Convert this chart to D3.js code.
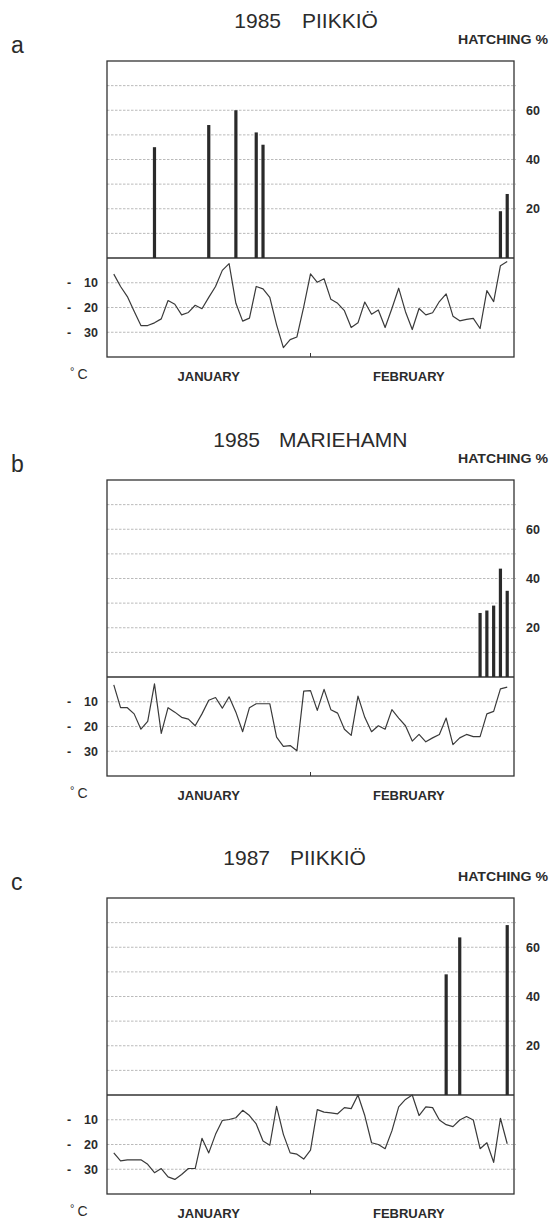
<!DOCTYPE html>
<html>
<head>
<meta charset="utf-8">
<script src="https://cdnjs.cloudflare.com/ajax/libs/d3/7.8.5/d3.min.js"></script>
<style>
body { margin: 0; background: #fff; }
text { font-family: "Liberation Sans", Arial, sans-serif; fill: #2b2b2b; }
</style>
</head>
<body>
<svg id="chart" width="551" height="1220"></svg>
<script>

///////  Data ///////

var panelLetters = ["a", "b", "c"];
var panelYears = ["1985", "1985", "1987"];
var panelPlaces = ["PIIKKIÖ", "MARIEHAMN", "PIIKKIÖ"];
var months = ["JANUARY", "FEBRUARY"];

// daily temperature, 1 Jan .. 28 Feb (deg C)
var tempA = [-6.5,-11.5,-15.6,-21.5,-27.3,-27.3,-26.2,-24.6,-17.2,-18.7,
             -23,-22,-19.1,-20.5,-15.9,-11.5,-5,-2.3,-18.3,-25.5,
             -24.3,-11.5,-12.5,-15.9,-27,-36.2,-33,-31.9,-19.7,-6.4,
             -9.8,-8.4,-16.7,-18.3,-21.3,-28.1,-26.2,-17.8,-22.7,-21,
             -28.1,-20.4,-12.2,-21.7,-28.9,-20.4,-23,-22.1,-17.6,-14.5,
             -23.5,-25.4,-24.8,-24.4,-28.5,-13.2,-17.6,-3.1,-1.4];
var tempB = [-3.2,-12.4,-12.4,-14.9,-21.1,-17.9,-2.8,-22.8,-12.4,-14.2,
             -16.3,-17,-19.7,-14.9,-9.4,-8.3,-12.6,-8,-14.2,-22.1,
             -12.4,-10.8,-10.8,-10.8,-24.3,-28,-27.7,-29.8,-5.7,-5.5,
             -13.5,-5,-13.2,-14.6,-21.1,-23.6,-7.7,-16.3,-22.1,-19.7,
             -21.1,-13.2,-16.6,-19.7,-25.9,-23.2,-26.2,-24.6,-23.2,-16.6,
             -27.3,-24.6,-23.2,-24.1,-24.1,-14.9,-13.9,-4.8,-4.1];
var tempC = [-23.4,-26.6,-26.2,-26.2,-26.2,-28,-31.4,-29.7,-33.1,-34.1,
             -32.1,-29.7,-29.7,-17.5,-23.4,-15.9,-10.3,-9.9,-9.2,-6.2,
             -8.3,-11.7,-18.6,-20.3,-4.6,-15.9,-23.4,-23.9,-25.9,-22.3,
             -5.9,-6.9,-7.2,-7.6,-5.1,-5.5,0,-8.3,-19.3,-20,
             -21.7,-14.5,-4.8,-1.8,0,-8.3,-4.8,-5.1,-10.1,-12,
             -12.8,-10.1,-8.7,-10.1,-21.7,-19.3,-27.2,-9.4,-19.7];

// hatching % (day number, value)
var hatchDaysA = [7, 15, 19, 22, 23, 58, 59];
var hatchA = [45, 54, 60, 51, 46, 19, 26];
var hatchDaysB = [55, 56, 57, 58, 59];
var hatchB = [26, 27, 29, 44, 35];
var hatchDaysC = [50, 52, 59];
var hatchC = [49, 64, 69];

var hatchTicks = [20, 40, 60];
var tempTicks = [-10, -20, -30];

///////  Layout ///////

var panelTop = [61, 480, 898];
var yearEnd = [281, 260, 270];
var placeStart = [302, 279, 290];
var monthDay = [15, 44.5];

var svg = d3.select("#chart");

var x = d3.scaleLinear().domain([0, 60]).range([107, 514]);
var yHatch = d3.scaleLinear().domain([0, 80]).range([197, 0]);
var yTemp = d3.scaleLinear().domain([0, -40]).range([197, 296]);

var temps = [tempA, tempB, tempC];
var hatchDays = [hatchDaysA, hatchDaysB, hatchDaysC];
var hatches = [hatchA, hatchB, hatchC];

var line = d3.line()
    .x(function(d, j) { return x(j + 1); })
    .y(function(d) { return yTemp(d); });

function drawPanel(i) {
    var g = svg.append("g").attr("transform", "translate(0," + panelTop[i] + ")");

    // headings
    g.append("text").attr("x", 11).attr("y", -8)
        .attr("font-size", "23px").text(panelLetters[i]);
    g.append("text").attr("x", yearEnd[i]).attr("y", -33)
        .attr("text-anchor", "end").attr("font-size", "21px").text(panelYears[i]);
    g.append("text").attr("x", placeStart[i]).attr("y", -33)
        .attr("font-size", "21px").text(panelPlaces[i]);
    g.append("text").attr("x", 458).attr("y", -17)
        .attr("font-size", "12px").attr("font-weight", "bold")
        .attr("textLength", 90).attr("lengthAdjust", "spacingAndGlyphs")
        .text("HATCHING %");

    // grid
    g.selectAll(".gh").data(d3.range(10, 80, 10)).enter().append("line")
        .attr("x1", x(0)).attr("x2", x(60) + 2)
        .attr("y1", function(d) { return yHatch(d); })
        .attr("y2", function(d) { return yHatch(d); })
        .attr("stroke", "#a8a8a8").attr("stroke-width", 0.8).attr("stroke-dasharray", "2.5,1.5");
    g.selectAll(".gt").data(tempTicks).enter().append("line")
        .attr("x1", x(0)).attr("x2", x(60) + 2)
        .attr("y1", function(d) { return yTemp(d); })
        .attr("y2", function(d) { return yTemp(d); })
        .attr("stroke", "#a8a8a8").attr("stroke-width", 0.8).attr("stroke-dasharray", "2.5,1.5");

    // frame
    g.append("rect").attr("x", x(0)).attr("y", yHatch(80))
        .attr("width", x(60) - x(0)).attr("height", yTemp(-40) - yHatch(80))
        .attr("fill", "none").attr("stroke", "#333").attr("stroke-width", 1.3);
    g.append("line").attr("x1", x(0)).attr("x2", x(60))
        .attr("y1", yTemp(0)).attr("y2", yTemp(0))
        .attr("stroke", "#333").attr("stroke-width", 1.3);
    g.append("line").attr("x1", x(30)).attr("x2", x(30))
        .attr("y1", yTemp(-40)).attr("y2", yTemp(-40) - 4)
        .attr("stroke", "#333").attr("stroke-width", 1);

    // bars
    g.selectAll(".bar").data(hatches[i]).enter().append("rect")
        .attr("x", function(d, j) { return x(hatchDays[i][j]) - 1.6; })
        .attr("width", 3.2)
        .attr("y", function(d) { return yHatch(d); })
        .attr("height", function(d) { return yHatch(0) - yHatch(d); })
        .attr("fill", "#2a2a2a");

    // temperature
    g.append("path").datum(temps[i])
        .attr("d", line)
        .attr("fill", "none").attr("stroke", "#3a3a3a").attr("stroke-width", 1.2)
        .attr("stroke-linejoin", "round");

    // axes
    var ra = g.append("g").attr("transform", "translate(" + x(60) + ",0)")
        .call(d3.axisRight(yHatch).tickValues(hatchTicks).tickSize(0).tickPadding(12));
    ra.select(".domain").remove();
    ra.selectAll("text").attr("font-size", "12.5px").attr("font-weight", "bold")
        .attr("font-family", null).style("fill", "#2b2b2b");

    var la = g.append("g").attr("transform", "translate(" + x(0) + ",0)")
        .call(d3.axisLeft(yTemp).tickValues(tempTicks).tickSize(0).tickPadding(9)
            .tickFormat(function(d) { return Math.abs(d); }));
    la.select(".domain").remove();
    la.selectAll("text").attr("font-size", "12.5px").attr("font-weight", "bold")
        .attr("font-family", null).style("fill", "#2b2b2b");
    la.selectAll(".tick").append("text")
        .attr("x", -38).attr("dy", "0.32em").attr("text-anchor", "middle")
        .attr("font-size", "12.5px").attr("font-weight", "bold").style("fill", "#2b2b2b")
        .text("-");

    // month labels
    g.selectAll(".month").data(months).enter().append("text")
        .attr("x", function(d, j) { return x(monthDay[j]); })
        .attr("y", yTemp(-40) + 24)
        .attr("text-anchor", "middle").attr("font-size", "13px").attr("font-weight", "bold")
        .text(function(d) { return d; });

    var dc = g.append("text").attr("x", 70).attr("y", yTemp(-40) + 22)
        .attr("font-size", "14px");
    dc.append("tspan").attr("font-size", "11px").attr("dy", "-4").text("°");
    dc.append("tspan").attr("dy", "4").attr("dx", "3").text("C");
}

for (var i = 0; i < 3; i++) drawPanel(i);

</script>
</body>
</html>
